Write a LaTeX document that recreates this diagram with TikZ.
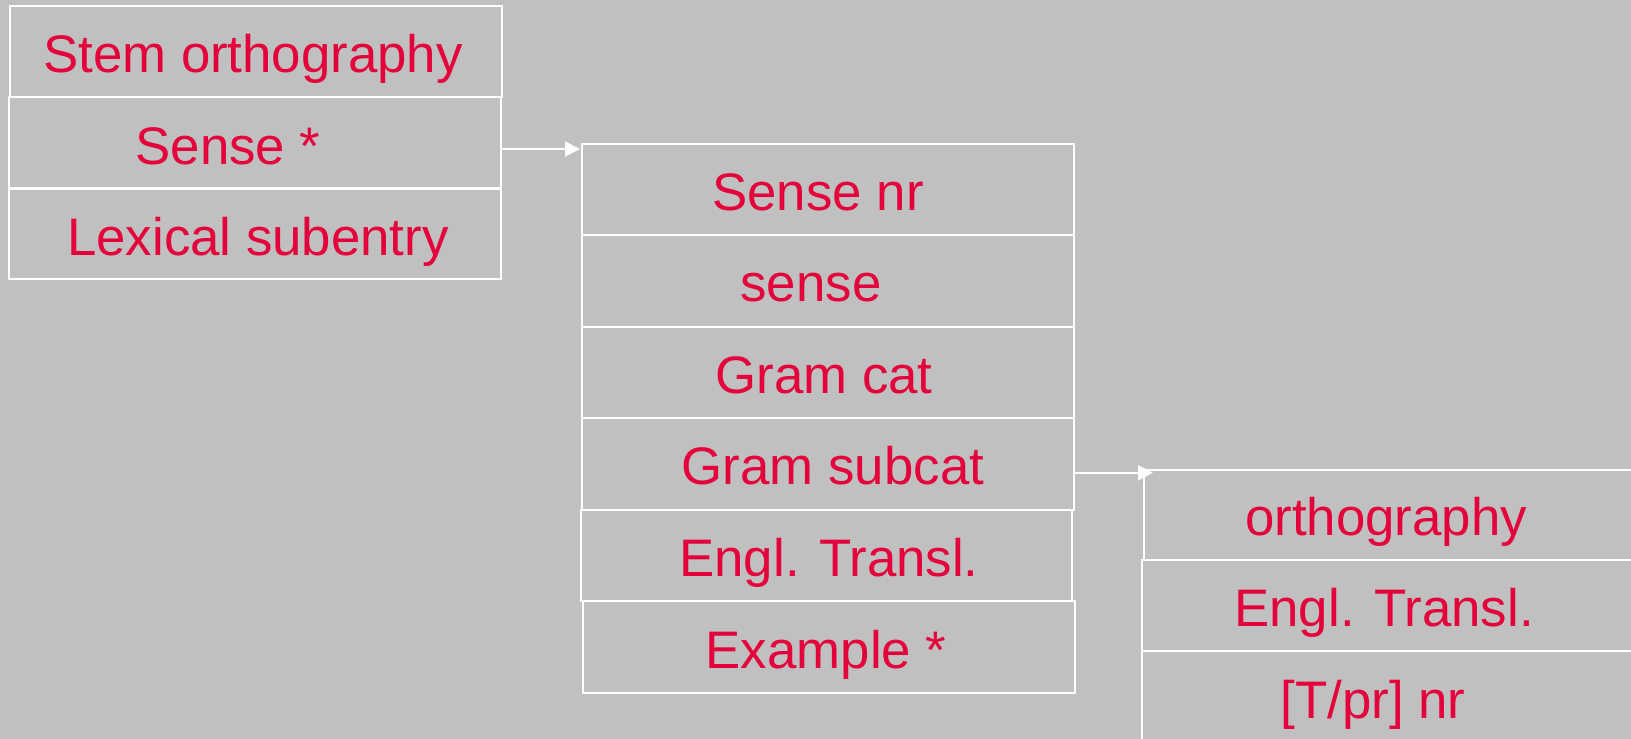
\documentclass[tikz,border=0pt]{standalone}
\usepackage{fontspec}
\setmainfont{Liberation Sans}
\usetikzlibrary{arrows.meta}
\definecolor{panelgray}{RGB}{192,192,192}
\definecolor{labelred}{RGB}{228,0,58}
\begin{document}
\begin{tikzpicture}[x=1pt,y=1pt,
  cell/.style={draw=white, line width=2pt, rectangle, inner sep=0pt, outer sep=0pt, anchor=north west},
  txt/.style={text=labelred, font=\fontsize{52.8}{60}\selectfont, anchor=base, inner sep=0pt},
  conn/.style={draw=white, line width=2pt, -{Triangle[length=15pt,width=15pt]}}]
% canvas
\fill[panelgray] (0,0) rectangle (1631,-739);
\useasboundingbox (0,0) rectangle (1631,-739);
\clip (0,0) rectangle (1631,-739);

% entry record
\node[cell, minimum width=492pt, minimum height=91pt] (b1) at (10,-6) {};
\node[cell, minimum width=492pt, minimum height=91pt] (b2) at (9,-97) {};
\node[cell, minimum width=492pt, minimum height=90pt] (b3) at (9,-189) {};
\node[txt] (tb1) at (253,-72) {Stem orthography};
\node[txt] (tb2) at (228,-164) {Sense *};
\node[txt] (tb3) at (258,-255) {Lexical subentry};

% sense record
\node[cell, minimum width=492pt, minimum height=91.5pt] (c1) at (582,-143.5) {};
\node[cell, minimum width=492pt, minimum height=91.5pt] (c2) at (582,-235) {};
\node[cell, minimum width=492pt, minimum height=91.5pt] (c3) at (582,-326.5) {};
\node[cell, minimum width=492pt, minimum height=91.5pt] (c4) at (582,-418) {};
\node[cell, minimum width=491pt, minimum height=91.5pt] (c5) at (581,-509.5) {};
\node[cell, minimum width=492pt, minimum height=91.5pt] (c6) at (583,-601) {};
\node[txt] (tc1) at (818,-210) {Sense nr};
\node[txt] (tc2) at (811,-301.5) {sense};
\node[txt] (tc3) at (824,-393) {Gram cat};
\node[txt] (tc4) at (833,-484.5) {Gram subcat};
\node[txt] (tc5) at (829,-576.5) {Engl. Transl.};
\node[txt] (tc6) at (826,-668) {Example *};

% example record
\node[cell, minimum width=520pt, minimum height=90pt] (d1) at (1144,-470) {};
\node[cell, minimum width=522pt, minimum height=91pt] (d2) at (1142,-559.5) {};
\node[cell, minimum width=522pt, minimum height=92pt] (d3) at (1142,-650.5) {};
\node[txt] (td1) at (1386,-535.5) {orthography};
\node[txt] (td2) at (1384,-626) {Engl. Transl.};
\node[txt] (td3) at (1373,-718) {[T/pr] nr};

% links between records
\draw[conn] ([yshift=-6.5pt]b2.east) -- ([xshift=-2pt,yshift=-6.5pt]b2.east -| c1.west);
\draw[conn] ([yshift=-9pt]c4.east) -- ([xshift=9pt,yshift=-9pt]c4.east -| d1.west);
\end{tikzpicture}
\end{document}
